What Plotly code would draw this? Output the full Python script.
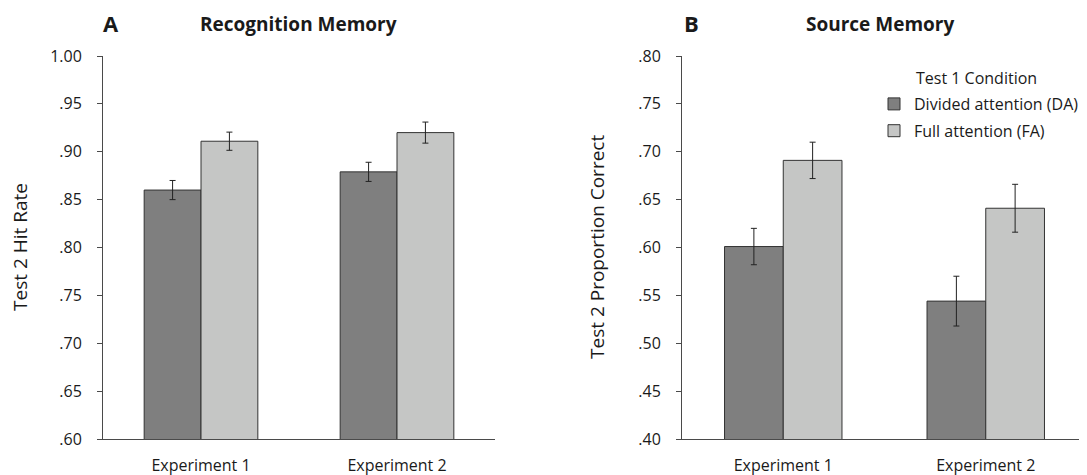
import plotly.graph_objects as go

# Page body has an 8px margin, so the figure is drawn 8px smaller and shifted.
OFF = 8
W, H = 1087 - OFF, 475 - OFF
PLOT_TOP, PLOT_BOTTOM = 56, 439  # reference pixel rows of the plotting area


def px(x):
    return (x - OFF) / W


def py(y):
    return (PLOT_BOTTOM - y) / (PLOT_BOTTOM - PLOT_TOP)


experiments = ["Experiment 1", "Experiment 2"]
series_names = ["Divided attention (DA)", "Full attention (FA)"]
series_colors = ["#7f7f7f", "#c5c6c5"]

# Panel A: Recognition memory (Test 2 hit rate)
recog_da = [0.860, 0.879]
recog_fa = [0.911, 0.920]
recog_da_err = [0.010, 0.010]
recog_fa_err = [0.0095, 0.011]

# Panel B: Source memory (Test 2 proportion correct)
source_da = [0.601, 0.544]
source_fa = [0.691, 0.641]
source_da_err = [0.019, 0.026]
source_fa_err = [0.019, 0.025]

recog_ticks = [0.60, 0.65, 0.70, 0.75, 0.80, 0.85, 0.90, 0.95, 1.00]
recog_ticktext = [".60", ".65", ".70", ".75", ".80", ".85", ".90", ".95", "1.00"]
source_ticks = [0.40, 0.45, 0.50, 0.55, 0.60, 0.65, 0.70, 0.75, 0.80]
source_ticktext = [".40", ".45", ".50", ".55", ".60", ".65", ".70", ".75", ".80"]

FONT = "Open Sans"
LINE = "#4a4a4a"
TXT = "#1a1a1a"

fig = go.Figure()

panels = [
    ("x", "y", [recog_da, recog_fa], [recog_da_err, recog_fa_err], True),
    ("x2", "y2", [source_da, source_fa], [source_da_err, source_fa_err], False),
]
for xa, ya, vals, errs, first in panels:
    for i in range(2):
        fig.add_trace(go.Bar(
            x=experiments, y=vals[i], name=series_names[i],
            xaxis=xa, yaxis=ya,
            marker=dict(color=series_colors[i], line=dict(color="#333333", width=1)),
            error_y=dict(type="data", array=errs[i], color="#222222", thickness=1, width=3),
            showlegend=not first, legendgroup=series_names[i],
        ))

axis_common = dict(showline=True, linecolor=LINE, linewidth=1, showgrid=False, zeroline=False,
                   tickfont=dict(family=FONT, size=16, color=TXT))

fig.update_layout(
    width=W, height=H,
    margin=dict(l=0, r=0, t=PLOT_TOP - OFF, b=475 - PLOT_BOTTOM),
    paper_bgcolor="white", plot_bgcolor="white",
    barmode="group", bargap=0.42, bargroupgap=0,
    font=dict(family=FONT, color=TXT),
    xaxis=dict(domain=[px(103), px(495)], range=[-0.5, 1.5], ticks="", ticklabelstandoff=12,
               anchor="y", **axis_common),
    xaxis2=dict(domain=[px(682), 1.0], range=[-0.5, 1.5], ticks="", ticklabelstandoff=12,
                anchor="y2", **axis_common),
    yaxis=dict(domain=[0, 1], range=[0.6, 1.0], tickvals=recog_ticks, ticktext=recog_ticktext,
               ticks="outside", ticklen=5, tickcolor=LINE, ticklabelstandoff=12,
               anchor="x", **axis_common),
    yaxis2=dict(domain=[0, 1], range=[0.4, 0.8], tickvals=source_ticks, ticktext=source_ticktext,
                ticks="outside", ticklen=5, tickcolor=LINE, ticklabelstandoff=12,
                anchor="x2", **axis_common),
    legend=dict(x=px(874), y=py(87), xanchor="left", yanchor="top",
                font=dict(family=FONT, size=16, color=TXT),
                traceorder="grouped", tracegroupgap=3, bgcolor="rgba(0,0,0,0)"),
    annotations=[
        dict(text="<b>A</b>", x=px(101), y=py(23), xref="paper", yref="paper",
             xanchor="left", yanchor="middle", showarrow=False, font=dict(family=FONT, size=22)),
        dict(text="<b>Recognition Memory</b>", x=px(298), y=py(24), xref="paper", yref="paper",
             xanchor="center", yanchor="middle", showarrow=False, font=dict(family=FONT, size=19)),
        dict(text="<b>B</b>", x=px(682), y=py(23), xref="paper", yref="paper",
             xanchor="left", yanchor="middle", showarrow=False, font=dict(family=FONT, size=22)),
        dict(text="<b>Source Memory</b>", x=px(880), y=py(24), xref="paper", yref="paper",
             xanchor="center", yanchor="middle", showarrow=False, font=dict(family=FONT, size=19)),
        dict(text="Test 2 Hit Rate", x=px(20), y=py(247), xref="paper", yref="paper",
             textangle=-90, xanchor="center", yanchor="middle", showarrow=False,
             font=dict(family=FONT, size=19)),
        dict(text="Test 2 Proportion Correct", x=px(597), y=py(247), xref="paper", yref="paper",
             textangle=-90, xanchor="center", yanchor="middle", showarrow=False,
             font=dict(family=FONT, size=19)),
        dict(text="Test 1 Condition", x=px(914), y=py(78), xref="paper", yref="paper",
             xanchor="left", yanchor="middle", showarrow=False, font=dict(family=FONT, size=16)),
    ],
)

fig.write_html("out.html")
